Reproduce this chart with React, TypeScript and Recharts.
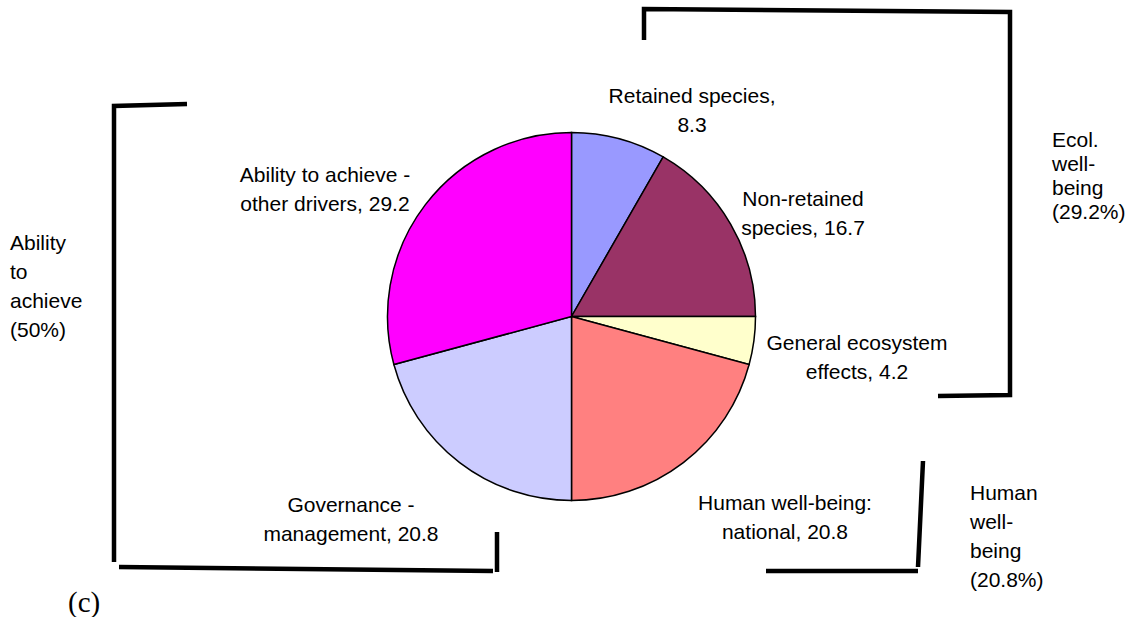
import React from "react";
import { PieChart, Pie, Cell, Customized } from "recharts";

const categories = [
  "Retained species",
  "Non-retained species",
  "General ecosystem effects",
  "Human well-being: national",
  "Governance - management",
  "Ability to achieve - other drivers",
];
const values = [8.3, 16.7, 4.2, 20.8, 20.8, 29.2];
const colors = ["#9999FF", "#993366", "#FFFFCC", "#FF8080", "#CCCCFF", "#FF00FF"];

const sliceLabels: string[][] = [
  ["Retained species,", "8.3"],
  ["Non-retained", "species, 16.7"],
  ["General ecosystem", "effects, 4.2"],
  ["Human well-being:", "national, 20.8"],
  ["Governance -", "management, 20.8"],
  ["Ability to achieve -", "other drivers, 29.2"],
];
const sliceLabelPos = [
  { x: 692, y: 103 },
  { x: 803, y: 206 },
  { x: 857, y: 350 },
  { x: 785, y: 510 },
  { x: 351, y: 512 },
  { x: 325, y: 182 },
];

const groupLabels: string[][] = [
  ["Ability", "to", "achieve", "(50%)"],
  ["Ecol.", "well-", "being", "(29.2%)"],
  ["Human", "well-", "being", "(20.8%)"],
];
const groupLabelPos = [
  { x: 10, y: 250, lh: 29 },
  { x: 1052, y: 147, lh: 24 },
  { x: 970, y: 500, lh: 29 },
];

const brackets = [
  "M187,104 L114,106 L114,562 M119,567 L493,571 M497,532 L497,572",
  "M644,40 L644,9 L1010,12 L1010,395 L938,396",
  "M923,461 L918,567 M766,571 L918,571",
];

const data = categories.map((name, i) => ({ name, value: values[i] }));

const FONT = "'Liberation Sans', Arial, Helvetica, sans-serif";
const LINE = 29;

const Overlay = () => (
  <g>
    {brackets.map((d, i) => (
      <path key={"b" + i} d={d} stroke="#000" strokeWidth={4.5} fill="none" />
    ))}
    {sliceLabels.map((lines, i) => (
      <text
        key={"s" + i}
        x={sliceLabelPos[i].x}
        y={sliceLabelPos[i].y}
        textAnchor="middle"
        fontFamily={FONT}
        fontSize={21}
        fill="#000"
      >
        {lines.map((t, j) => (
          <tspan key={j} x={sliceLabelPos[i].x} dy={j === 0 ? 0 : LINE}>
            {t}
          </tspan>
        ))}
      </text>
    ))}
    {groupLabels.map((lines, i) => (
      <text
        key={"g" + i}
        x={groupLabelPos[i].x}
        y={groupLabelPos[i].y}
        textAnchor="start"
        fontFamily={FONT}
        fontSize={21}
        fill="#000"
      >
        {lines.map((t, j) => (
          <tspan key={j} x={groupLabelPos[i].x} dy={j === 0 ? 0 : groupLabelPos[i].lh}>
            {t}
          </tspan>
        ))}
      </text>
    ))}
    <text x={68} y={612} fontFamily="'Liberation Serif', 'Times New Roman', serif" fontSize={29} fill="#000">
      (c)
    </text>
  </g>
);

export default function App() {
  return (
    <div style={{ position: "absolute", left: 0, top: 0, background: "#fff" }}>
      <PieChart width={1142} height={617} margin={{ top: 0, right: 0, bottom: 0, left: 0 }}>
        <Pie
          data={data}
          dataKey="value"
          nameKey="name"
          cx={571.5}
          cy={316.5}
          outerRadius={184}
          startAngle={90}
          endAngle={-270}
          stroke="#000"
          strokeWidth={1.5}
          isAnimationActive={false}
          label={false}
          labelLine={false}
        >
          {data.map((d, i) => (
            <Cell key={d.name} fill={colors[i]} stroke="#000" strokeWidth={1.5} />
          ))}
        </Pie>
        <Customized component={Overlay} />
      </PieChart>
    </div>
  );
}
